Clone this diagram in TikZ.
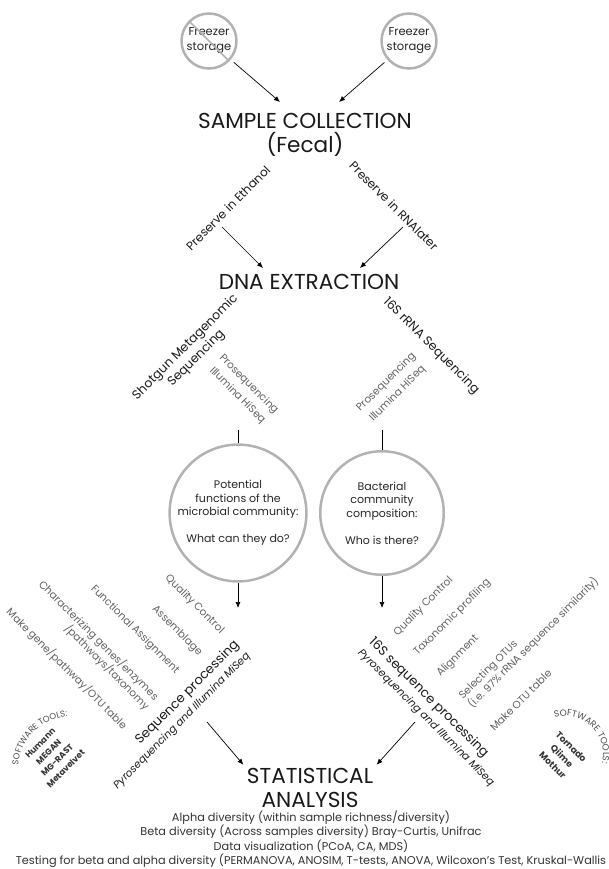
\documentclass[tikz,border=0pt]{standalone}
\usepackage{fontspec}
\setmainfont{Poppins}
\usetikzlibrary{arrows.meta,decorations.text}
\newcommand{\fsz}[2]{\fontsize{#1}{#2}\selectfont}

\begin{document}
\begin{tikzpicture}[x=1pt,y=-1pt,
    ring/.style={circle,draw=black!30,line width=2.5pt,inner sep=0pt,align=center,text=black!85},
    arr/.style={-{Latex[length=6pt,width=5pt]},line width=0.7pt},
    title/.style={align=center,font=\fsz{21.6}{24},text=black!90},
    head/.style={font=\fsz{12.5}{15.5},text=black!90,inner sep=1pt},
    lab/.style={font=\fsz{10.5}{13},text=black!62,inner sep=1pt},
    tool/.style={font=\bfseries\fsz{8.5}{12},text=black!80,align=center,inner sep=0pt}]
        \useasboundingbox (0,0) rectangle (608,869);
        % Storage
            \node[ring,minimum size=55pt,font=\fsz{11.5}{15}] (F1) at (209,41) {Freezer\\storage};
            \node[ring,minimum size=55pt,font=\fsz{11.5}{15}] (F2) at (409,41) {Freezer\\storage};
            \draw[black!30,line width=1.5pt] (F1.north west) -- (F1.south east);
        % Sample collection
            \node[title] (S) at (305,135) {SAMPLE COLLECTION\\(Fecal)};
            \coordinate (S1) at (280,102);
            \coordinate (S2) at (339,102);
            \draw[arr,shorten <=4pt] (F1) -- (S1);
            \draw[arr,shorten <=4pt] (F2) -- (S2);
        % Preservation
            \node[head,font=\fsz{12}{14},rotate=45] (E) at (228,208) {Preserve in Ethanol};
            \node[head,font=\fsz{12}{14},rotate=-45] (R) at (394,206) {Preserve in RNAlater};
            \coordinate (E1) at (222,227);
            \coordinate (E2) at (263,268);
            \coordinate (R1) at (403,227);
            \coordinate (R2) at (360,268);
            \draw[arr] (E1) -- (E2);
            \draw[arr] (R1) -- (R2);
        % DNA extraction
            \node[title] (D) at (309,282) {DNA EXTRACTION};
        % Sequencing
            \node[head,rotate=45,align=center] (SG) at (191,353) {Shotgun Metagenomic\\Sequencing};
            \node[lab,rotate=-45,align=center,font=\fsz{10.5}{16}] (PL) at (243,390) {Prosequencing\\Illumina HiSeq};
            \node[head,rotate=-45] (RS) at (431,346) {16S rRNA Sequencing};
            \node[lab,rotate=45,align=center,font=\fsz{10.5}{16}] (PR) at (392,388) {Prosequencing\\Illumina HiSeq};
        % Questions
            \node[ring,minimum size=123.5pt,font=\fsz{11}{13.5}] (P) at (238,513)
                {Potential\\functions of the\\microbial community:\\[13.5pt]What can they do?};
            \node[ring,minimum size=123.5pt,font=\fsz{11}{13.5}] (B) at (382,513)
                {Bacterial\\community\\composition:\\[13.5pt]Who is there?};
            \coordinate (P0) at (238,430);
            \coordinate (B0) at (382,430);
            \coordinate (P1) at (238,608);
            \coordinate (B1) at (382,608);
            \draw[line width=0.7pt] (P0) -- (P);
            \draw[line width=0.7pt] (B0) -- (B);
            \draw[arr] (P) -- (P1);
            \draw[arr] (B) -- (B1);
        % Shotgun steps
            \node[lab,rotate=-45,anchor=east] (L1) at (223,633) {Quality Control};
            \node[lab,rotate=-45,anchor=east] (L2) at (201,655) {Assemblage};
            \node[lab,rotate=-45,anchor=east] (L3) at (178,673) {Functional Assignment};
            \node[lab,rotate=-45,anchor=east,align=right] (L4) at (153,704) {Characterizing genes/enzymes\\/pathways/taxonomy};
            \node[lab,rotate=-45,anchor=east] (L5) at (126,728) {Make gene/pathway/OTU table};
            \node[head,font=\fsz{13}{15.5},rotate=45,align=right] (SP) at (176,715)
                {Sequence processing\\{\fsz{10.5}{13}\itshape Pyrosequencing and Illumina MiSeq}};
        % 16S steps
            \node[lab,rotate=45,anchor=west] (Q1) at (395,635) {Quality Control};
            \node[lab,rotate=45,anchor=west] (Q2) at (415,655) {Taxonomic profiling};
            \node[lab,rotate=45,anchor=west] (Q3) at (438,676) {Alignment};
            \node[lab,rotate=45,anchor=west,align=left] (Q4) at (465,703) {Selecting OTUs\\(i.e. 97\% rRNA sequence similarity)};
            \node[lab,rotate=45,anchor=west] (Q5) at (491,730) {Make OTU table};
            \node[head,font=\fsz{13}{15.5},rotate=-45,align=left] (RP) at (432,712)
                {16S sequence processing\\{\fsz{10.5}{13}\itshape Pyrosequencing and Illumina MiSeq}};
        % Software tools
            \path[decorate,decoration={text along path,text align=center,
                text={|\fsz{8.6}{8.6}\color{black!70}|SOFTWARE TOOLS:}}]
                (72,770) ++(195:54pt) arc[start angle=195,end angle=75,radius=54pt];
            \path[decorate,decoration={text along path,text align=center,
                text={|\fsz{9}{9}\color{black!70}|SOFTWARE TOOLS:}}]
                (565,754) ++(128:38pt) arc[start angle=128,end angle=-36,radius=38pt];
            \node[tool,rotate=45] (TL) at (53,756) {Humann\\MEGAN\\MG-RAST\\Metavelvet};
            \node[tool,font=\bfseries\fsz{9}{13},rotate=-45] (TR) at (562,756) {Tornado\\Qiime\\Mothur};
        % Statistical analysis
            \node[title] (T) at (310,788) {STATISTICAL\\ANALYSIS};
            \coordinate (SP1) at (207,722);
            \coordinate (RP1) at (415,722);
            \draw[arr] (SP1) -- (T.north west);
            \draw[arr] (RP1) -- (T.north east);
            \node[font=\fsz{11.3}{11.7},text=black!80,align=center] (A) at (311,839)
                {Alpha diversity (within sample richness/diversity)\\
                 Beta diversity (Across samples diversity) Bray-Curtis, Unifrac\\
                 Data visualization (PCoA, CA, MDS)\\
                 Testing for beta and alpha diversity (PERMANOVA, ANOSIM, T-tests, ANOVA, Wilcoxon's Test, Kruskal-Wallis};
\end{tikzpicture}
\end{document}
